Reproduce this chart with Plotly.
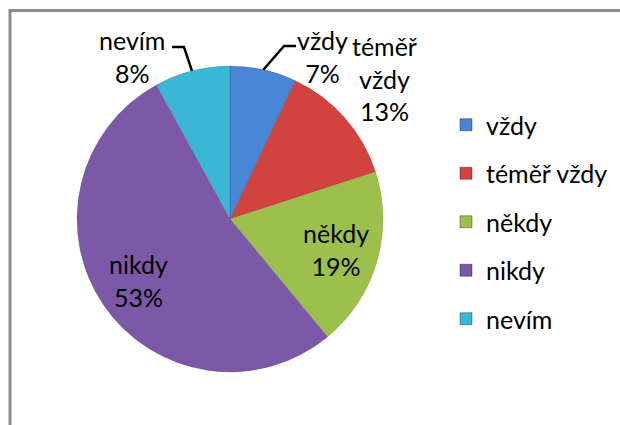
import math
import plotly.graph_objects as go

# Data
labels = ['vždy', 'téměř vždy', 'někdy', 'nikdy', 'nevím']
values = [7, 13, 19, 53, 8]
colors = ['#4A86D6', '#D2433F', '#9DC04C', '#7B58A8', '#3AB7D6']

# labels placed outside the pie (Excel moved these by hand); the rest sit inside
label_pos = {'vždy': (322, 56), 'téměř vždy': (385, 78), 'nevím': (132, 56)}
leader = {'vždy': [(284, 46), (296, 46)], 'nevím': [(184, 47), (172, 47)]}

W, H = 620, 425
cx, cy, R = 230, 219, 153  # pie centre / radius in px
FONT = 'Lato, Calibri, sans-serif'
FS = 25


def px(x):
    return x / W


def py(y):
    return 1 - y / H


fig = go.Figure()

fig.add_trace(go.Pie(
    labels=labels,
    values=values,
    sort=False,
    direction='clockwise',
    rotation=0,
    marker=dict(colors=colors, line=dict(color='rgba(0,0,0,0.12)', width=1)),
    textinfo='none',
    domain=dict(x=[px(cx - R), px(cx + R)], y=[py(cy + R), py(cy - R)]),
    showlegend=False,
    hoverinfo='label+percent',
))

# legend via dummy traces so the item spacing can be opened up
for lab, col in zip(labels, colors):
    fig.add_trace(go.Scatter(
        x=[None], y=[None], mode='markers', name=lab, legendgroup=lab,
        marker=dict(symbol='square', size=12, color=col,
                    line=dict(color='rgba(0,0,0,0.35)', width=1)),
        showlegend=True,
    ))

annotations = []
shapes = []
total = sum(values)
cum = 0
for lab, v in zip(labels, values):
    theta = 2 * math.pi * (cum + v / 2) / total
    cum += v
    pct = round(100 * v / total)
    if lab in label_pos:
        x, y = label_pos[lab]
        text = lab.replace(' ', '<br>') + f'<br>{pct}%'
    else:
        x = cx + 0.72 * R * math.sin(theta)
        y = cy - 0.72 * R * math.cos(theta)
        text = f'{lab}<br>{pct}%'
    annotations.append(dict(
        x=px(x), y=py(y), xref='paper', yref='paper', text=text, showarrow=False,
        xanchor='center', yanchor='middle',
        font=dict(family=FONT, size=FS, color='black'), align='center',
    ))
    if lab in leader:
        sx, sy = cx + R * math.sin(theta), cy - R * math.cos(theta)
        pts = [(sx, sy)] + leader[lab]
        path = 'M ' + ' L '.join(f'{px(a):.4f},{py(b):.4f}' for a, b in pts)
        shapes.append(dict(type='path', xref='paper', yref='paper', path=path,
                           line=dict(color='black', width=2.5)))

# chart frame (cut off at the right and bottom like the reference)
shapes.append(dict(type='rect', xref='paper', yref='paper',
                   x0=px(10), y0=-0.1, x1=1.1, y1=py(10.5),
                   line=dict(color='#8c8c8c', width=3)))

fig.update_layout(
    width=W,
    height=H,
    margin=dict(l=0, r=0, t=0, b=0),
    paper_bgcolor='white',
    plot_bgcolor='white',
    xaxis=dict(visible=False),
    yaxis=dict(visible=False),
    font=dict(family=FONT, size=FS, color='black'),
    legend=dict(x=px(446), y=py(102), xanchor='left', yanchor='top',
                font=dict(family=FONT, size=FS), tracegroupgap=13,
                bgcolor='rgba(0,0,0,0)'),
    annotations=annotations,
    shapes=shapes,
)

fig.write_html('out.html', config={'displayModeBar': False},
               post_script="document.body.style.margin='0';")
